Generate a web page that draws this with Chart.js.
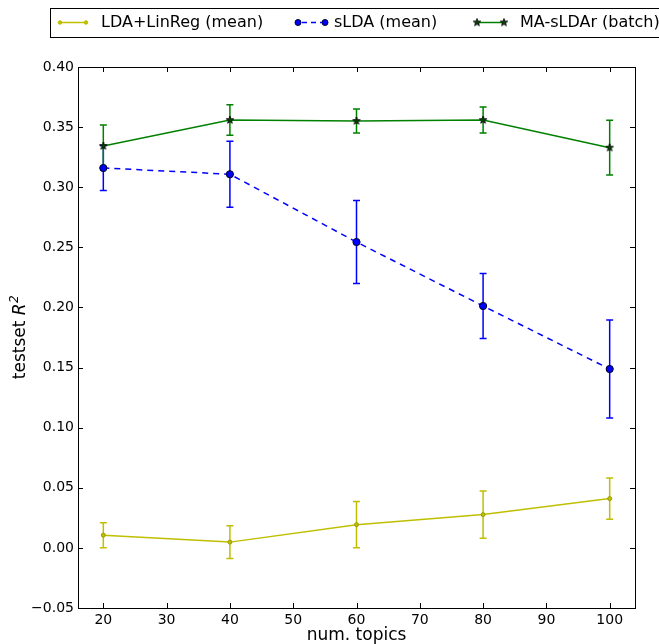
<!DOCTYPE html>
<html>
<head>
<meta charset="utf-8">
<script src="https://cdn.jsdelivr.net/npm/chart.js@4"></script>
<style>
  body { margin: 0; background: #fff; }
  canvas { display: block; }
</style>
</head>
<body>
<canvas id="grafico" width="659" height="644"></canvas>
<script>
const topics = [20, 40, 60, 80, 100]
const ldaMean = [0.0106, 0.0048, 0.0193, 0.0277, 0.0410]
const ldaErr = [0.0104, 0.0137, 0.0192, 0.0196, 0.0171]
const sldaMean = [0.3160, 0.3108, 0.2544, 0.2012, 0.1488]
const sldaErr = [0.0187, 0.0275, 0.0345, 0.0271, 0.0408]
const masldaMean = [0.3343, 0.3559, 0.3551, 0.3559, 0.3329]
const masldaErr = [0.0175, 0.0127, 0.0100, 0.0108, 0.0228]
const xTicks = [20, 30, 40, 50, 60, 70, 80, 90, 100]
const yTicks = [-0.05, 0, 0.05, 0.10, 0.15, 0.20, 0.25, 0.30, 0.35, 0.40]
const seriesNames = ['LDA+LinReg (mean)', 'sLDA (mean)', 'MA-sLDAr (batch)']

const FONT = '"DejaVu Sans", sans-serif'
const yellow = '#bfbf00'
const blue = '#0000ff'
const green = '#008000'

// filled star marker like matplotlib '*'
function makeStar(r){
    const c = document.createElement('canvas')
    const s = Math.ceil(r * 2 + 4)
    c.width = s
    c.height = s
    const g = c.getContext('2d')
    g.beginPath()
    for(let i = 0; i < 10; i++){
        const rad = i % 2 === 0 ? r : r * 0.42
        const a = -Math.PI / 2 + i * Math.PI / 5
        const px = s / 2 + rad * Math.cos(a)
        const py = s / 2 + rad * Math.sin(a)
        if(i === 0) g.moveTo(px, py)
        else g.lineTo(px, py)
    }
    g.closePath()
    g.fillStyle = '#0a400a'
    g.fill()
    g.strokeStyle = '#000'
    g.lineWidth = 0.8
    g.stroke()
    return c
}
const star = makeStar(4)

function pts(ys){
    return topics.map((x, i) => ({x: x, y: ys[i]}))
}

const errorSets = [
    {mean: ldaMean, err: ldaErr, color: yellow},
    {mean: sldaMean, err: sldaErr, color: blue},
    {mean: masldaMean, err: masldaErr, color: green}
]

const errorBars = {
    id: 'errorBars',
    beforeDatasetsDraw(chart){
        const ctx = chart.ctx
        const xs = chart.scales.x
        const ys = chart.scales.y
        ctx.save()
        ctx.lineWidth = 1.5
        errorSets.forEach(s => {
            ctx.strokeStyle = s.color
            topics.forEach((t, i) => {
                const px = xs.getPixelForValue(t)
                const top = ys.getPixelForValue(s.mean[i] + s.err[i])
                const bot = ys.getPixelForValue(s.mean[i] - s.err[i])
                ctx.beginPath()
                ctx.moveTo(px, top); ctx.lineTo(px, bot)
                ctx.moveTo(px - 3.5, top); ctx.lineTo(px + 3.5, top)
                ctx.moveTo(px - 3.5, bot); ctx.lineTo(px + 3.5, bot)
                ctx.stroke()
            })
        })
        ctx.restore()
    }
}

function dot(ctx, x, y, r, fill, edge){
    ctx.beginPath()
    ctx.arc(x, y, r, 0, Math.PI * 2)
    ctx.fillStyle = fill
    ctx.fill()
    ctx.strokeStyle = edge
    ctx.lineWidth = 1
    ctx.stroke()
}

const decorations = {
    id: 'decorations',
    afterDraw(chart){
        const ctx = chart.ctx
        const a = chart.chartArea
        const xs = chart.scales.x
        const ys = chart.scales.y
        ctx.save()
        // frame
        ctx.strokeStyle = '#000'
        ctx.lineWidth = 1
        ctx.strokeRect(Math.round(a.left) + 0.5, Math.round(a.top) + 0.5, Math.round(a.right - a.left), Math.round(a.bottom - a.top))
        // inward ticks
        ctx.beginPath()
        xTicks.forEach(v => {
            const px = Math.round(xs.getPixelForValue(v)) + 0.5
            ctx.moveTo(px, a.bottom); ctx.lineTo(px, a.bottom - 5)
            ctx.moveTo(px, a.top); ctx.lineTo(px, a.top + 5)
        })
        yTicks.forEach(v => {
            const py = Math.round(ys.getPixelForValue(v)) + 0.5
            ctx.moveTo(a.left, py); ctx.lineTo(a.left + 5, py)
            ctx.moveTo(a.right, py); ctx.lineTo(a.right - 5, py)
        })
        ctx.stroke()

        // axis titles
        ctx.fillStyle = '#000'
        ctx.font = '17px ' + FONT
        ctx.textAlign = 'center'
        ctx.textBaseline = 'alphabetic'
        ctx.fillText('num. topics', (a.left + a.right) / 2, 640)

        ctx.save()
        ctx.translate(25, (a.top + a.bottom) / 2)
        ctx.rotate(-Math.PI / 2)
        const t1 = 'testset '
        ctx.font = '17px ' + FONT
        const w1 = ctx.measureText(t1).width
        ctx.font = 'italic 17px ' + FONT
        const w2 = ctx.measureText('R').width
        ctx.font = 'italic 12px ' + FONT
        const w3 = ctx.measureText('2').width
        let sx = -(w1 + w2 + w3) / 2
        ctx.textAlign = 'left'
        ctx.font = '17px ' + FONT
        ctx.fillText(t1, sx, 0)
        ctx.font = 'italic 17px ' + FONT
        ctx.fillText('R', sx + w1, 0)
        ctx.font = 'italic 12px ' + FONT
        ctx.fillText('2', sx + w1 + w2 + 0.5, -7)
        ctx.restore()

        // legend box
        ctx.lineWidth = 1
        ctx.strokeStyle = '#000'
        ctx.strokeRect(50.5, 8.5, 620, 29)
        const cy = 22.5
        ctx.font = '16px ' + FONT
        ctx.textAlign = 'left'
        ctx.textBaseline = 'middle'
        ctx.fillStyle = '#000'

        // yellow handle
        ctx.strokeStyle = yellow
        ctx.lineWidth = 1.5
        ctx.beginPath(); ctx.moveTo(60, cy); ctx.lineTo(86, cy); ctx.stroke()
        dot(ctx, 60, cy, 1.8, yellow, yellow)
        dot(ctx, 86, cy, 1.8, yellow, yellow)
        ctx.fillStyle = '#000'
        ctx.fillText(seriesNames[0], 101, cy)

        // blue handle
        ctx.strokeStyle = blue
        ctx.lineWidth = 1.5
        ctx.setLineDash([5, 4])
        ctx.beginPath(); ctx.moveTo(302, cy); ctx.lineTo(322, cy); ctx.stroke()
        ctx.setLineDash([])
        dot(ctx, 298, cy, 3, blue, '#000022')
        dot(ctx, 325, cy, 3, blue, '#000022')
        ctx.fillStyle = '#000'
        ctx.fillText(seriesNames[1], 334, cy)

        // green handle
        ctx.strokeStyle = green
        ctx.lineWidth = 1.5
        ctx.beginPath(); ctx.moveTo(477, cy); ctx.lineTo(504, cy); ctx.stroke()
        ctx.drawImage(star, 477 - star.width / 2, cy - star.height / 2)
        ctx.drawImage(star, 504 - star.width / 2, cy - star.height / 2)
        ctx.fillStyle = '#000'
        ctx.fillText(seriesNames[2], 520, cy)
        ctx.restore()
    }
}

const canvas = document.getElementById('grafico')
const chart = new Chart(canvas, {
    type: 'line',
    data: {
        datasets: [
            {
                label: seriesNames[0],
                data: pts(ldaMean),
                borderColor: yellow,
                backgroundColor: yellow,
                borderWidth: 1.5,
                pointRadius: 2,
                pointBorderColor: '#9a9a00',
                pointBorderWidth: 1,
                fill: false
            },
            {
                label: seriesNames[1],
                data: pts(sldaMean),
                borderColor: blue,
                backgroundColor: blue,
                borderWidth: 1.5,
                borderDash: [6, 5],
                pointRadius: 3.6,
                pointBorderColor: '#000022',
                pointBorderWidth: 1,
                fill: false
            },
            {
                label: seriesNames[2],
                data: pts(masldaMean),
                borderColor: green,
                backgroundColor: green,
                borderWidth: 1.5,
                pointStyle: star,
                fill: false
            }
        ]
    },
    options: {
        responsive: false,
        animation: false,
        layout: {padding: {left: 0, top: 67, right: 24, bottom: 0}},
        plugins: {legend: {display: false}, tooltip: {enabled: false}},
        scales: {
            x: {
                type: 'linear',
                min: 16,
                max: 104,
                grid: {display: false, drawTicks: false},
                border: {display: false},
                afterBuildTicks: s => { s.ticks = xTicks.map(v => ({value: v})) },
                afterFit: s => { s.height = 36 },
                ticks: {
                    color: '#000',
                    padding: 4,
                    maxRotation: 0,
                    font: {family: FONT, size: 14},
                    callback: v => String(v)
                }
            },
            y: {
                min: -0.05,
                max: 0.40,
                grid: {display: false, drawTicks: false},
                border: {display: false},
                afterBuildTicks: s => { s.ticks = yTicks.map(v => ({value: v})) },
                afterFit: s => { s.width = 78 },
                ticks: {
                    color: '#000',
                    padding: 4,
                    font: {family: FONT, size: 14},
                    callback: v => (v < 0 ? '\u2212' : '') + Math.abs(v).toFixed(2)
                }
            }
        }
    },
    plugins: [errorBars, decorations]
})
</script>
</body>
</html>
